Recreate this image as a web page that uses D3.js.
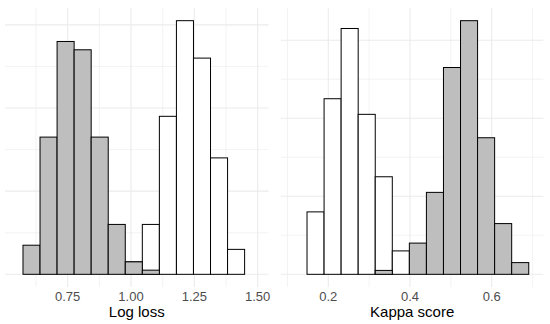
<!DOCTYPE html>
<meta charset="utf-8">
<script src="https://d3js.org/d3.v7.js"></script>
<style>
  body { margin: 0; background: #fff; }
  text { font-family: "Liberation Sans", Arial, sans-serif; }
</style>
<div id="my_dataviz"></div>
<script>

// ---- data (histogram counts per bin) ----
// Log loss panel: 13 bins starting at 0.5735, width 0.0673
const logStart = 0.5735, logWidth = 0.0673;
const logGrey  = [7, 33, 56, 54, 33, 12, 3, 1, 0, 0, 0, 0, 0];
const logWhite = [0, 0, 0, 0, 0, 0, 3, 12, 38, 61, 52, 28, 6];
const logTicks = [0.75, 1.00, 1.25, 1.50];
const logMinor = [0.625, 0.875, 1.125, 1.375];

// Kappa panel: 13 bins starting at 0.1479, width 0.04175
const kapStart = 0.1479, kapWidth = 0.04175;
const kapWhite = [16, 45, 63, 41, 25, 6, 0, 0, 0, 0, 0, 0, 0];
const kapGrey  = [0, 0, 0, 0, 1, 0, 8, 21, 53, 65, 35, 13, 3];
const kapTicks = [0.2, 0.4, 0.6];
const kapMinor = [0.1, 0.3, 0.5, 0.7];

const yMajor = [0, 20, 40, 60];
const yMinor = [10, 30, 50];

const W = 550, H = 324;
const svg = d3.select("#my_dataviz")
  .append("svg")
    .attr("width", W)
    .attr("height", H);

function panel(opts) {
  const x = d3.scaleLinear().domain(opts.xDomain).range([opts.left, opts.right]);
  const ymax = d3.max(opts.white.concat(opts.grey));
  const y = d3.scaleLinear().domain([-0.05 * ymax, 1.05 * ymax]).range([287, 8]);

  const g = svg.append("g");

  // grid
  const grid = g.append("g");
  grid.selectAll(".vminor").data(opts.minor).join("line")
    .attr("x1", d => x(d)).attr("x2", d => x(d))
    .attr("y1", y.range()[1]).attr("y2", y.range()[0])
    .style("stroke", "#ebebeb").style("stroke-width", 0.6);
  grid.selectAll(".vmajor").data(opts.ticks).join("line")
    .attr("x1", d => x(d)).attr("x2", d => x(d))
    .attr("y1", y.range()[1]).attr("y2", y.range()[0])
    .style("stroke", "#ebebeb").style("stroke-width", 1.1);
  grid.selectAll(".hgrid").data(yMinor.concat(yMajor).filter(d => y(d) > 8)).join("line")
    .attr("x1", opts.left).attr("x2", opts.right)
    .attr("y1", d => y(d)).attr("y2", d => y(d))
    .style("stroke", "#ebebeb").style("stroke-width", d => yMajor.includes(d) ? 1.1 : 0.6);

  // bars: white histogram first, grey on top
  function bars(counts, fill) {
    const bins = counts.map((c, i) => ({x0: opts.start + i * opts.width, x1: opts.start + (i + 1) * opts.width, c: c}))
      .filter(d => d.c > 0);
    g.append("g").selectAll("rect").data(bins).join("rect")
      .attr("x", d => x(d.x0))
      .attr("width", d => x(d.x1) - x(d.x0))
      .attr("y", d => y(d.c))
      .attr("height", d => y(0) - y(d.c))
      .style("fill", fill)
      .style("stroke", "#000")
      .style("stroke-width", 1);
  }
  bars(opts.white, "#ffffff");
  bars(opts.grey, "#bebebe");

  // tick labels
  g.selectAll(".tick").data(opts.ticks).join("text")
    .attr("x", d => x(d))
    .attr("y", 300.5)
    .attr("text-anchor", "middle")
    .style("font-size", "13px")
    .style("fill", "#4d4d4d")
    .text(d => opts.fmt(d));

  // axis title
  g.append("text")
    .attr("x", (opts.left + opts.right) / 2)
    .attr("y", 317)
    .attr("text-anchor", "middle")
    .style("font-size", "15px")
    .style("fill", "#000")
    .text(opts.title);
}

panel({
  left: 5, right: 268.5, xDomain: [0.5025, 1.5427],
  start: logStart, width: logWidth,
  grey: logGrey, white: logWhite,
  ticks: logTicks, minor: logMinor,
  fmt: d3.format(".2f"), title: "Log loss"
});

panel({
  left: 281, right: 543.3, xDomain: [0.0842, 0.7263],
  start: kapStart, width: kapWidth,
  grey: kapGrey, white: kapWhite,
  ticks: kapTicks, minor: kapMinor,
  fmt: d3.format(".1f"), title: "Kappa score"
});

</script>
